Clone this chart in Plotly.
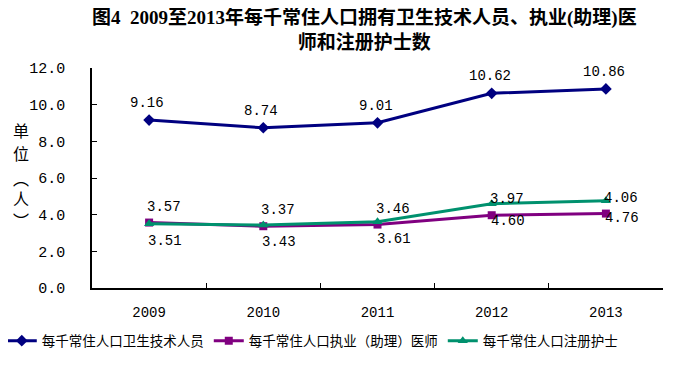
import plotly.graph_objects as go

years = ["2009", "2010", "2011", "2012", "2013"]
tech_staff = [9.16, 8.74, 9.01, 10.62, 10.86]
doctors = [3.57, 3.37, 3.46, 3.97, 4.06]
nurses = [3.51, 3.43, 3.61, 4.60, 4.76]
names = ["每千常住人口卫生技术人员", "每千常住人口执业（助理）医师", "每千常住人口注册护士"]
colors = ["#000080", "#800080", "#00916E"]
unit_chars = ["单", "位", "︵", "人", "︶"]

mono = "Liberation Mono, Noto Sans CJK SC"
serif = "Liberation Serif, Noto Sans CJK SC"
cjk = "Noto Sans CJK SC"

fig = go.Figure()
fig.add_trace(go.Scatter(
    x=years, y=tech_staff, name=names[0], mode="lines+markers", cliponaxis=False,
    line=dict(color=colors[0], width=3), marker=dict(symbol="diamond", size=9)))
fig.add_trace(go.Scatter(
    x=years, y=doctors, name=names[1], mode="lines+markers", cliponaxis=False,
    line=dict(color=colors[1], width=3), marker=dict(symbol="square", size=8)))
fig.add_trace(go.Scatter(
    x=years, y=nurses, name=names[2], mode="lines+markers", cliponaxis=False,
    line=dict(color=colors[2], width=3), marker=dict(symbol="triangle-up", size=9)))

label_font = dict(family=mono, size=14, color="black")
for i, v in enumerate(tech_staff):
    fig.add_annotation(x=i, y=v, text=f"{v:.2f}", showarrow=False, yshift=17, xshift=-2,
                       font=label_font)
for i, v in enumerate(doctors):
    fig.add_annotation(x=i, y=v, text=f"{v:.2f}", showarrow=False, yshift=16, xshift=15,
                       font=label_font)
for i, v in enumerate(nurses):
    fig.add_annotation(x=i, y=v, text=f"{v:.2f}", showarrow=False, yshift=-17, xshift=16,
                       font=label_font)

fig.update_layout(
    width=699, height=368,
    margin=dict(l=84, r=44, t=60, b=88, autoexpand=False),
    paper_bgcolor="white", plot_bgcolor="white",
    showlegend=True,
    legend=dict(orientation="h", x=-0.158, xanchor="left", y=-0.17, yanchor="top",
                font=dict(family=cjk, size=13.5, color="black"),
                itemwidth=30, tracegroupgap=0),
    xaxis=dict(type="category", categoryarray=years, range=[-0.5, 4.5],
               showline=True, linecolor="black", linewidth=1.5,
               ticks="inside", ticklen=5, tickcolor="black", tickson="boundaries",
               showgrid=False, zeroline=False, ticklabelstandoff=10, automargin=False,
               tickfont=dict(family=mono, size=14, color="black")),
    yaxis=dict(range=[0, 12], dtick=2, tickformat=".1f", showline=True,
               linecolor="black", linewidth=1.5, ticks="inside", ticklen=5,
               tickcolor="black", showgrid=False, zeroline=False, automargin=False,
               tickfont=dict(family=mono, size=15, color="black"), ticklabelstandoff=22),
)
fig.add_annotation(text="<b>图4  2009至2013年每千常住人口拥有卫生技术人员、执业(助理)医<br>师和注册护士数</b>",
                   xref="paper", yref="paper", x=0.478, y=1.175, xanchor="center", yanchor="middle",
                   showarrow=False, align="center",
                   font=dict(family=serif, size=19, color="black"))
unit_y = [0.72, 0.615, 0.5, 0.41, 0.31]
for ch, yy in zip(unit_chars, unit_y):
    fig.add_annotation(text=ch, xref="paper", yref="paper",
                       x=-0.125, y=yy, xanchor="center", yanchor="middle", showarrow=False,
                       font=dict(family=cjk, size=16, color="black"))
fig.write_html("out.html")
